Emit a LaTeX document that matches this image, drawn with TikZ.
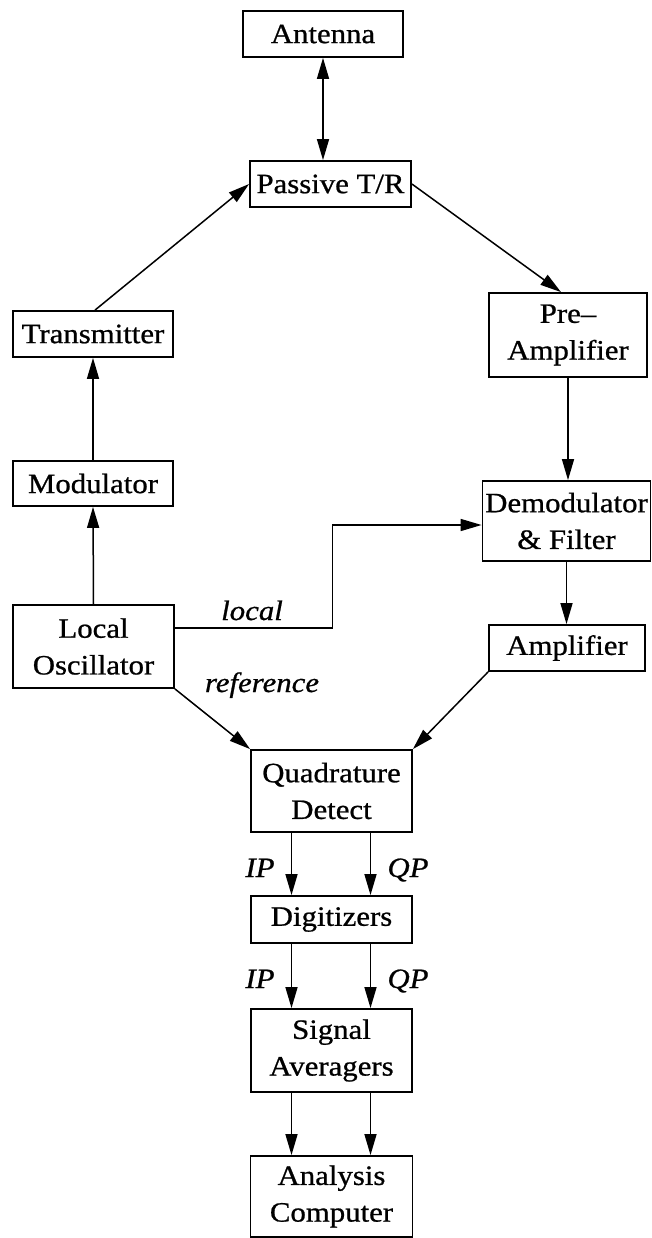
\documentclass[tikz,border=0pt]{standalone}
\usepackage{fontspec}
\setmainfont[FakeStretch=1.1,FakeBold=0.8]{Liberation Serif}
\usetikzlibrary{arrows.meta}
\begin{document}
\begin{tikzpicture}[x=1pt,y=-1pt,
  box/.style={draw,line width=1.8pt,inner sep=0pt,align=center,
    font=\fontsize{28}{36.7}\selectfont},
  lbl/.style={anchor=base,inner sep=0pt,font=\fontsize{28}{34}\selectfont\itshape},
  arr/.style={line width=1.5pt,-{Triangle[length=21pt,width=12pt]}},
  darr/.style={line width=1.5pt,{Triangle[length=21pt,width=12pt]}-{Triangle[length=21pt,width=12pt]}}]
\useasboundingbox (0,0) rectangle (652,1238);
\node[box,minimum width=160pt,minimum height=46pt] (ant) at (323,34) {Antenna};
\node[box,minimum width=161pt,minimum height=46pt] (tr) at (330.5,184) {Passive T/R};
\node[box,minimum width=160pt,minimum height=46pt] (tx) at (93,334) {Transmitter};
\node[box,minimum width=160pt,minimum height=45pt] (mod) at (93,483.5) {Modulator};
\node[box,minimum width=161pt,minimum height=83pt] (lo) at (93.5,646.5) {Local\\Oscillator};
\node[box,minimum width=158pt,minimum height=84pt] (pre) at (568,335) {Pre--\\Amplifier};
\node[box,minimum width=168pt,minimum height=80pt] (dem) at (566.5,521) {Demodulator\\\& Filter};
\node[box,minimum width=156pt,minimum height=46pt] (amp) at (567,648) {Amplifier};
\node[box,minimum width=161pt,minimum height=82pt] (qd) at (331.5,791) {Quadrature\\Detect};
\node[box,minimum width=161pt,minimum height=47pt] (dig) at (331.5,919.5) {Digitizers};
\node[box,minimum width=161pt,minimum height=83pt] (sa) at (331.5,1050.5) {Signal\\Averagers};
\node[box,minimum width=162pt,minimum height=81pt] (ac) at (331.5,1196.5) {Analysis\\Computer};

\draw[darr] (ant.south) -- (ant.south |- tr.north);
\draw[arr] ([xshift=2pt]tx.north) -- (tr.west);
\draw[arr] (tr.east) -- ([xshift=-7pt]pre.north);
\draw[arr] (mod.north) -- (tx.south);
\draw[arr] (lo.north) -- (mod.south);
\draw[arr] ([yshift=18.5pt]lo.east) -- ++(157.5,0) |- ([yshift=-4pt]dem.west);
\draw[arr] (pre.south) -- (pre.south |- dem.north);
\draw[arr] (dem.south) -- (dem.south |- amp.north);
\draw[arr] (lo.south east) -- (qd.north west);
\draw[arr] (amp.south west) -- (qd.north east);
\foreach \dx in {-40,39} {
  \draw[arr] ([xshift=\dx pt]qd.south) -- ([xshift=\dx pt]dig.north);
  \draw[arr] ([xshift=\dx pt]dig.south) -- ([xshift=\dx pt]sa.north);
  \draw[arr] ([xshift=\dx pt]sa.south) -- ([xshift=\dx pt]ac.north);
}
\node[lbl] (llocal) at (252,620) {local};
\node[lbl] (lref) at (262,692) {reference};
\node[lbl] (ip1) at (260,877) {IP};
\node[lbl] (qp1) at (408,877) {QP};
\node[lbl] (ip2) at (260,988) {IP};
\node[lbl] (qp2) at (408,988) {QP};
\end{tikzpicture}
\end{document}
